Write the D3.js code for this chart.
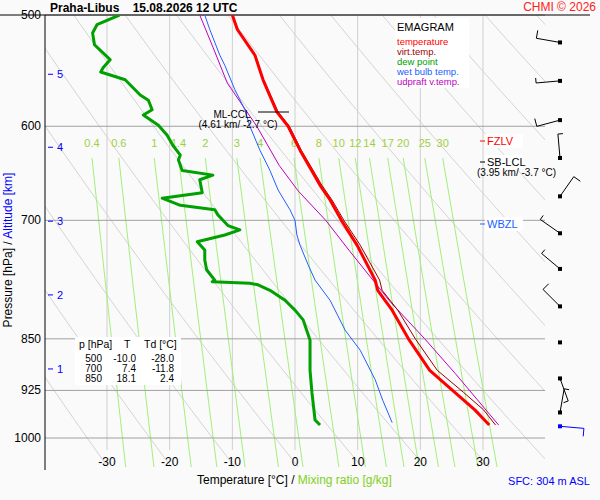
<!DOCTYPE html>
<html lang="en">
<head>
<meta charset="utf-8">
<title>Emagram Praha-Libus</title>
<script src="https://d3js.org/d3.v7.min.js"></script>
<style>
  body { margin: 0; background: #fafafa; font-family: Arial, "Liberation Sans", sans-serif; }
  text { font-family: Arial, "Liberation Sans", sans-serif; }
</style>
</head>
<body>
<div id="chart"></div>
<script>
// ---- data ----
var pressureTicks = [500, 600, 700, 850, 925, 1000];
var tempTicks = [-30, -20, -10, 0, 10, 20, 30];
var altKm = [1, 2, 3, 4, 5];
var altP = [893, 791, 701, 621, 551];
var thetaK = [230, 240, 250, 260, 270, 280, 290, 300, 310, 320, 330, 340, 350, 360, 370, 380, 390, 400, 410, 420, 430, 440, 450, 460];
var mixRatios = [0.4, 0.6, 1, 1.4, 2, 3, 4, 6, 8, 10, 12, 14, 17, 20, 25, 30];

var tempP = [500, 512, 534, 556, 586, 600, 624, 661, 677, 700, 729, 772, 785, 811, 850, 895, 928, 955, 979];
var tempT = [-10.0, -9.2, -6.4, -5.1, -2.9, -1.1, 0.8, 4.0, 5.6, 7.4, 9.9, 12.8, 13.2, 15.5, 18.1, 21.5, 25.5, 28.7, 31.0];
var virtT = [-9.9, -9.1, -6.3, -5.0, -2.7, -0.9, 1.0, 4.3, 5.9, 7.8, 10.4, 13.5, 13.9, 16.4, 19.2, 22.7, 26.9, 30.1, 32.0];
var dewP = [500, 508, 515, 525, 538, 545, 549, 556, 570, 575, 584, 589, 599, 609, 619, 629, 634, 645, 650, 655, 669, 675, 683, 688, 694, 706, 711, 717, 725, 735, 747, 759, 772, 774, 776, 778, 785, 798, 811, 824, 852, 895, 928, 971, 979];
var dewT = [-28.0, -31.6, -32.3, -32.0, -29.5, -30.6, -31.0, -27.1, -24.7, -23.4, -22.8, -24.2, -21.8, -20.4, -19.5, -18.3, -18.6, -18.0, -13.1, -15.2, -14.8, -21.2, -18.3, -12.8, -12.3, -10.7, -8.8, -11.2, -15.6, -14.4, -14.4, -14.1, -12.8, -13.2, -7.2, -5.9, -4.0, -1.6, 0.0, 1.3, 2.4, 2.4, 2.7, 3.2, 4.0];
var wetP = [500, 512, 534, 543, 565, 584, 600, 624, 645, 666, 688, 700, 717, 729, 753, 772, 798, 838, 866, 909, 940, 975];
var wetT = [-14.4, -13.6, -12.0, -11.2, -9.6, -8.0, -7.2, -5.6, -4.0, -2.7, -0.8, 0.0, 0.3, 0.8, 2.1, 3.2, 5.6, 8.0, 10.4, 12.8, 14.0, 15.5];
var updP = [500, 527, 559, 600, 640, 667, 700, 735, 800, 850, 900, 979];
var updT = [-15.2, -13.1, -10.8, -6.1, -2.5, 0.5, 4.9, 8.6, 15.2, 20.7, 25.6, 32.5];

var windP = [523, 557, 594, 632, 673, 715, 758, 806, 855, 907, 959, 981];
var windDir = [280, 265, 255, 355, 35, 305, 310, 315, 0, 160, 10, 95];
var windKt = [10, 7, 10, 5, 10, 5, 5, 10, 0, 5, 5, 10];

var tableRows = [["500", "-10.0", "-28.0"], ["700", "7.4", "-11.8"], ["850", "18.1", "2.4"]];
var legendNames = ["temperature", "virt.temp.", "dew point", "wet bulb temp.", "udpraft v.temp."];
var legendColors = ["#ff0000", "#a00000", "#00a000", "#2060ff", "#c000c0"];

// ---- layout ----
var W = 600, H = 500;
var plotL = 45, plotR = 545, plotT = 15, plotB = 467;
var x = d3.scaleLinear().domain([-30, 30]).range([107, 483]);
var y = d3.scaleLog().domain([500, 1000]).range([15, 438]);

var svg = d3.select("#chart").append("svg")
  .attr("width", W).attr("height", H)
  .style("background", "#fafafa");

svg.append("defs").append("clipPath").attr("id", "plot")
  .append("rect").attr("x", plotL).attr("y", plotT).attr("width", plotR - plotL).attr("height", plotB - plotT);

var grid = svg.append("g").attr("clip-path", "url(#plot)");

// dry adiabats
var pSteps = d3.range(480, 1061, 10);
grid.selectAll("path.dry")
  .data(thetaK)
  .join("path")
  .attr("class", "dry")
  .attr("fill", "none")
  .attr("stroke", "#d4d4d4")
  .attr("stroke-width", 1)
  .attr("d", th => d3.line()
    .x(p => x(th * Math.pow(p / 1000, 0.286) - 273.15))
    .y(p => y(p))(pSteps));

// isotherms
grid.selectAll("line.iso")
  .data(tempTicks)
  .join("line")
  .attr("stroke", "#cfcfcf")
  .attr("x1", d => x(d)).attr("x2", d => x(d))
  .attr("y1", plotT).attr("y2", 450);

// mixing ratio lines
function tdFromW(w, p) {
  var e = w * p / (622 + w);
  var l = Math.log(e / 6.112);
  return 243.5 * l / (17.67 - l);
}
var mixP = d3.range(632, 1061, 10);
grid.selectAll("path.mix")
  .data(mixRatios)
  .join("path")
  .attr("fill", "none")
  .attr("stroke", "#a0f078")
  .attr("stroke-width", 1)
  .attr("d", w => d3.line().x(p => x(tdFromW(w, p))).y(p => y(p))(mixP));

svg.selectAll("text.mix")
  .data(mixRatios)
  .join("text")
  .attr("x", w => x(tdFromW(w, 632)))
  .attr("y", 147)
  .attr("text-anchor", "middle")
  .attr("font-size", 11)
  .attr("fill", "#a0d040")
  .text(d => d);

// isobars
svg.selectAll("line.isobar")
  .data(pressureTicks)
  .join("line")
  .attr("stroke", "#a0a0a0")
  .attr("x1", plotL).attr("x2", plotR)
  .attr("y1", d => y(d)).attr("y2", d => y(d));

// axes
svg.append("line").attr("x1", 0).attr("x2", 590).attr("y1", plotT).attr("y2", plotT).attr("stroke", "#000");
svg.append("line").attr("x1", plotL).attr("x2", plotL).attr("y1", plotT).attr("y2", 470).attr("stroke", "#000");
svg.selectAll("text.pt")
  .data(pressureTicks)
  .join("text")
  .attr("x", 41).attr("y", d => y(d) + 4)
  .attr("text-anchor", "end").attr("font-size", 12)
  .text(d => d);
svg.selectAll("text.tt")
  .data(tempTicks)
  .join("text")
  .attr("x", d => x(d)).attr("y", 466)
  .attr("text-anchor", "middle").attr("font-size", 12)
  .text(d => d);
var alt = svg.append("g");
alt.selectAll("line")
  .data(altP)
  .join("line")
  .attr("x1", 48).attr("x2", 53)
  .attr("y1", d => y(d)).attr("y2", d => y(d))
  .attr("stroke", "#0000ff");
alt.selectAll("text")
  .data(altKm)
  .join("text")
  .attr("x", 57).attr("y", (d, i) => y(altP[i]) + 4)
  .attr("font-size", 11).attr("fill", "#0000ff")
  .text(d => d);

var ylab = svg.append("text")
  .attr("transform", "translate(12,250) rotate(-90)")
  .attr("text-anchor", "middle").attr("font-size", 12);
ylab.append("tspan").text("Pressure [hPa]  /  ");
ylab.append("tspan").attr("fill", "#0000ff").text("Altitude [km]");

var xlab = svg.append("text")
  .attr("x", 197).attr("y", 484).attr("font-size", 12);
xlab.append("tspan").text("Temperature [°C]  /  ");
xlab.append("tspan").attr("fill", "#80d020").text("Mixing ratio [g/kg]");

svg.append("text").attr("x", 50).attr("y", 12).attr("font-size", 12).attr("font-weight", "bold")
  .style("white-space", "pre").text("Praha-Libus    15.08.2026 12 UTC");
svg.append("text").attr("x", 596).attr("y", 11).attr("text-anchor", "end").attr("font-size", 12)
  .attr("fill", "#ff2020").text("CHMI © 2026");
svg.append("text").attr("x", 590).attr("y", 485).attr("text-anchor", "end").attr("font-size", 11)
  .attr("fill", "#0000ff").text("SFC: 304 m ASL");

// ---- profiles ----
var plots = svg.append("g").attr("clip-path", "url(#plot)");
function profile(ps, ts, color, width) {
  plots.append("path")
    .datum(ps.map((p, i) => [ts[i], p]))
    .attr("fill", "none")
    .attr("stroke", color)
    .attr("stroke-width", width)
    .attr("stroke-linejoin", "round")
    .attr("d", d3.line().x(d => x(d[0])).y(d => y(d[1])));
}
profile(updP, updT, "#c000c0", 1);
profile(wetP, wetT, "#2060ff", 1);
profile(tempP, virtT, "#a00000", 1);
profile(tempP, tempT, "#ff0000", 3);
profile(dewP, dewT, "#00a000", 3);

// ---- legend ----
var lg = svg.append("g");
lg.append("rect").attr("x", 395).attr("y", 18).attr("width", 74).attr("height", 70).attr("fill", "#fff");
lg.append("text").attr("x", 397).attr("y", 31).attr("font-size", 11).text("EMAGRAM");
lg.selectAll("text.item")
  .data(legendNames)
  .join("text")
  .attr("x", 397).attr("y", (d, i) => 45 + i * 10)
  .attr("font-size", 9.5)
  .attr("fill", (d, i) => legendColors[i])
  .text(d => d);

// ---- table ----
var tb = svg.append("g");
tb.append("rect").attr("x", 75).attr("y", 337).attr("width", 106).attr("height", 48).attr("fill", "#fff");
tb.append("text").attr("x", 79).attr("y", 348).attr("font-size", 10.5).text("p [hPa]");
tb.append("text").attr("x", 124).attr("y", 348).attr("font-size", 10.5).text("T");
tb.append("text").attr("x", 144).attr("y", 348).attr("font-size", 10.5).text("Td [°C]");
tableRows.forEach(function (r, i) {
  var yy = 362 + i * 10;
  tb.append("text").attr("x", 102).attr("y", yy).attr("font-size", 10).attr("text-anchor", "end").text(r[0]);
  tb.append("text").attr("x", 136).attr("y", yy).attr("font-size", 10).attr("text-anchor", "end").text(r[1]);
  tb.append("text").attr("x", 174).attr("y", yy).attr("font-size", 10).attr("text-anchor", "end").text(r[2]);
});

// ---- levels ----
svg.append("line").attr("x1", 258).attr("x2", 289).attr("y1", 112).attr("y2", 112).attr("stroke", "#000");
svg.append("text").attr("x", 232).attr("y", 118).attr("text-anchor", "middle").attr("font-size", 10).text("ML-CCL");
svg.append("text").attr("x", 238).attr("y", 128).attr("text-anchor", "middle").attr("font-size", 10).text("(4.61 km/ -2.7 °C)");

function level(yy, label, color, sub) {
  svg.append("rect").attr("x", 485).attr("y", yy - 7).attr("width", 38).attr("height", 14).attr("fill", "#fff");
  svg.append("line").attr("x1", 480).attr("x2", 485).attr("y1", yy).attr("y2", yy).attr("stroke", color);
  svg.append("text").attr("x", 487).attr("y", yy + 4).attr("font-size", 11).attr("fill", color).text(label);
  if (sub) svg.append("text").attr("x", 477).attr("y", yy + 14).attr("font-size", 10).attr("fill", color).text(sub);
}
level(141, "FZLV", "#ff0000");
level(162, "SB-LCL", "#000000", "(3.95 km/ -3.7 °C)");
level(224, "WBZL", "#2060ff");

// ---- wind barbs ----
var wb = svg.append("g");
windP.forEach(function (p, i) {
  var cx = 560, cy = y(p);
  var col = i === windP.length - 1 ? "#0000ff" : "#000";
  wb.append("rect").attr("x", cx - 2).attr("y", cy - 2).attr("width", 4).attr("height", 4).attr("fill", col);
  if (windKt[i] === 0) return;
  var a = windDir[i] * Math.PI / 180;
  var len = 24;
  var ex = cx + len * Math.sin(a), ey = cy - len * Math.cos(a);
  wb.append("line").attr("x1", cx).attr("y1", cy).attr("x2", ex).attr("y2", ey).attr("stroke", col);
  var fl = windKt[i] >= 10 ? 8 : 5;
  var b = a + Math.PI / 2;
  wb.append("line").attr("x1", ex).attr("y1", ey)
    .attr("x2", ex + fl * Math.sin(b)).attr("y2", ey - fl * Math.cos(b)).attr("stroke", col);
});
</script>
</body>
</html>
